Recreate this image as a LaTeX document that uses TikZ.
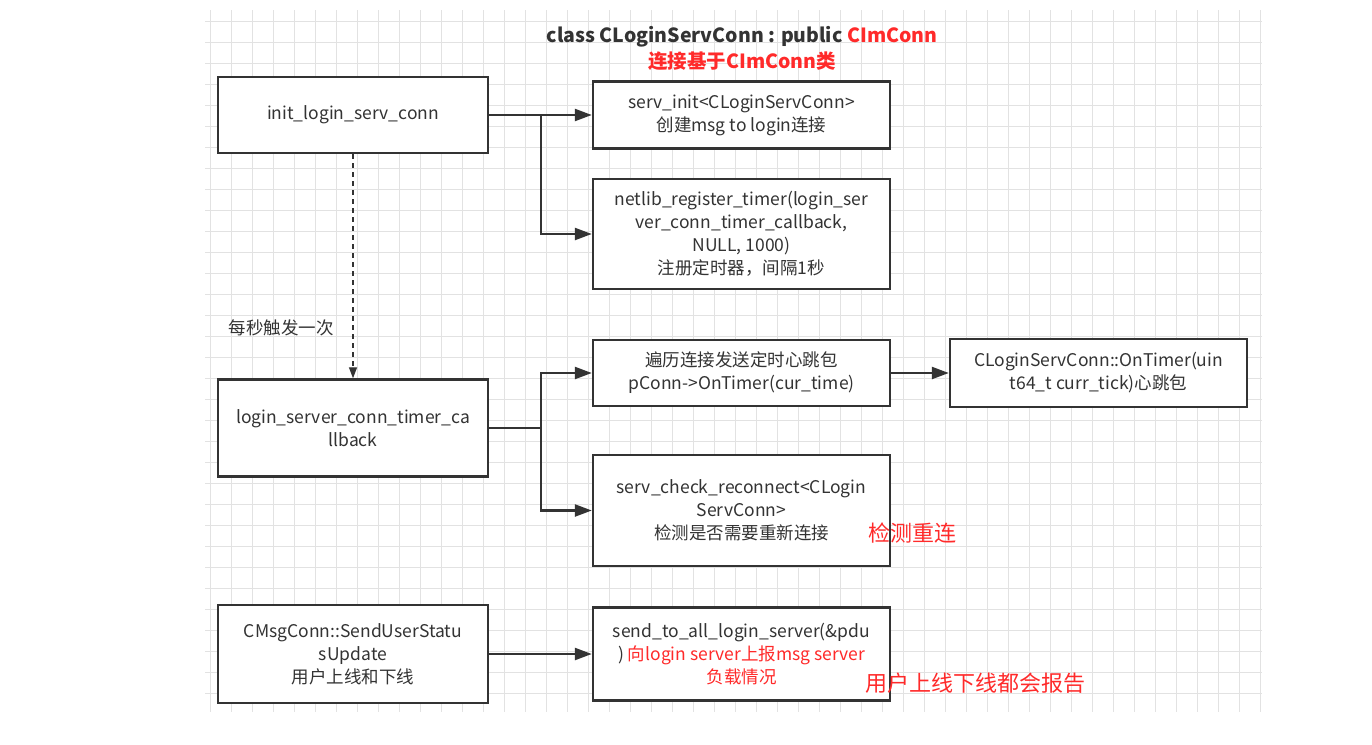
\documentclass[tikz,border=0pt]{standalone}
\usepackage{fontspec}
\setmainfont{Noto Sans CJK SC}
\usetikzlibrary{arrows.meta}
\definecolor{ink}{HTML}{333333}
\definecolor{hot}{HTML}{FF2A2A}
\definecolor{gridc}{HTML}{E2E2E2}

\begin{document}
\begin{tikzpicture}[x=1pt, y=-1pt,
                    every node/.style = {font=\fontsize{17.5}{23}\selectfont, text=ink},
                    func/.style = {shape=rectangle, draw=ink, line width=2.4pt,
                      fill=white, align=center, inner sep=4pt},
                    wide/.style = {func, minimum width=270pt},
                    mid/.style = {func, minimum width=297pt},
                    link/.style = {draw=ink, line width=2.4pt,
                      -{Triangle[length=17pt,width=12pt]}},
                    note/.style = {text=hot, font=\fontsize{22}{26}\selectfont}]
  \useasboundingbox (0,0) rectangle (1372,744);
  \draw[gridc, step=21pt] (205,10) grid (1262,712);

  % title
  \node (title) at (742,37) {\fontsize{19.5}{23}\selectfont\bfseries class CLoginServConn : public \textcolor{hot}{CImConn}};
  \node[text=hot] (subtitle) at (742,61) {\fontsize{19.5}{23}\selectfont\bfseries 连接基于CImConn类};

  % left column
  \node[wide, minimum height=76pt] (init) at (353,115) {init\_login\_serv\_conn};
  \node[wide, minimum height=97pt] (callback) at (353,428) {login\_server\_conn\_timer\_ca\\llback};
  \node[wide, minimum height=98pt] (status) at (353,654) {CMsgConn::SendUserStatu\\sUpdate\\用户上线和下线};
  \node (persec) at (281,328) {每秒触发一次};

  % middle column
  \node[mid, minimum height=67pt] (servinit) at (741.5,115) {serv\_init<CLoginServConn>\\创建msg to login连接};
  \node[mid, minimum height=110pt] (regtimer) at (741.5,234) {netlib\_register\_timer(login\_ser\\ver\_conn\_timer\_callback,\\NULL, 1000)\\注册定时器，间隔1秒};
  \node[mid, minimum height=66pt] (loop) at (741.5,373) {遍历连接发送定时心跳包\\pConn->OnTimer(cur\_time)};
  \node[mid, minimum height=111pt] (reconn) at (741.5,510.5) {serv\_check\_reconnect<CLogin\\ServConn>\\检测是否需要重新连接};
  \node[mid, minimum height=93pt] (sendall) at (741.5,654) {send\_to\_all\_login\_server(\&pdu\\) \textcolor{hot}{向login server上报msg server}\\\textcolor{hot}{负载情况}};

  % right column
  \node[mid, minimum height=68pt] (ontimer) at (1098.5,373) {CLoginServConn::OnTimer(uin\\t64\_t curr\_tick)心跳包};
  \node[note] (recnote) at (912,533) {检测重连};
  \node[note] (statusnote) at (975,683) {用户上线下线都会报告};

  % connectors
  \coordinate (fork1) at (541,115);
  \coordinate (fork2) at (541,428);
  \draw[link] (init) -- (servinit);
  \draw[link] (fork1) |- (regtimer);
  \draw[link, line width=1.3pt, dashed, dash pattern=on 5pt off 4pt,
        -{Triangle[length=11pt,width=8pt]}] (init) -- (callback);
  \draw[link] (callback.east) -- (fork2) |- (loop.west);
  \draw[link] (fork2) |- (reconn.west);
  \draw[link] (loop) -- (ontimer);
  \draw[link] (status) -- (sendall);
\end{tikzpicture}
\end{document}
